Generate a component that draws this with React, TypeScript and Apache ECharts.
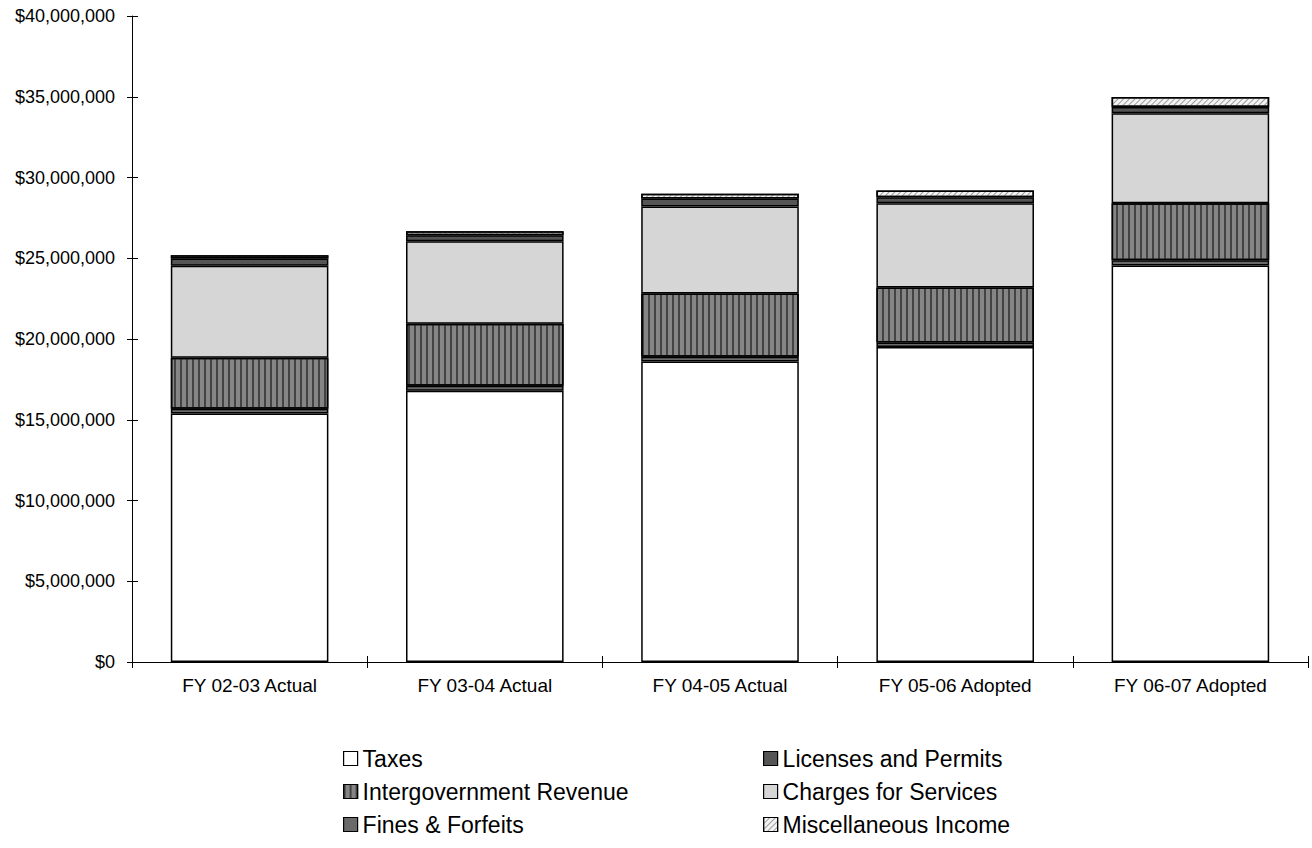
import React, { useEffect, useRef } from "react";
import * as echarts from "echarts";

const categories = ["FY 02-03 Actual", "FY 03-04 Actual", "FY 04-05 Actual", "FY 05-06 Adopted", "FY 06-07 Adopted"];
const taxes = [15380000, 16800000, 18600000, 19500000, 24550000];
const fines = [300000, 300000, 300000, 280000, 320000];
const intergov = [3160000, 3850000, 3920000, 3410000, 3530000];
const charges = [5700000, 5100000, 5380000, 5210000, 5580000];
const licenses = [450000, 370000, 500000, 380000, 380000];
const misc = [200000, 250000, 300000, 420000, 620000];
const legendCol1 = ["Taxes", "Intergovernment Revenue", "Fines & Forfeits"];
const legendCol2 = ["Licenses and Permits", "Charges for Services", "Miscellaneous Income"];

const FONT = "'Liberation Sans', Arial, sans-serif";

export default function App() {
  const ref = useRef<HTMLDivElement>(null);
  useEffect(() => {
    if (!ref.current) return;
    const chart = echarts.init(ref.current, undefined, { renderer: "svg" });
    const border = { borderColor: "#000", borderWidth: 1.5 };
    const mk = (name: string, data: number[], itemStyle: any) => ({
      name,
      type: "bar",
      stack: "total",
      data,
      barWidth: "67%",
      itemStyle: { ...border, ...itemStyle },
      emphasis: { disabled: true },
    });
    const legendBase = {
      orient: "vertical",
      top: 747,
      padding: 0,
      itemWidth: 14,
      itemHeight: 14,
      itemGap: 10,
      icon: "rect",
      selectedMode: false,
      textStyle: { fontFamily: FONT, fontSize: 23, lineHeight: 23, color: "#000" },
      itemStyle: { borderColor: "#000", borderWidth: 1.2 },
    };
    chart.setOption({
      animation: false,
      backgroundColor: "#fff",
      grid: { left: 132, right: 4, top: 16, bottom: 186, containLabel: false },
      legend: [
        { ...legendBase, left: 343, data: legendCol1 },
        { ...legendBase, left: 763, data: legendCol2 },
      ],
      xAxis: [
        {
          type: "category",
          data: categories,
          axisLine: { lineStyle: { color: "#000", width: 1 } },
          axisTick: { show: true, length: 6, lineStyle: { color: "#000" } },
          axisLabel: { color: "#000", fontFamily: FONT, fontSize: 19, margin: 14 },
        },
        {
          type: "category",
          data: categories,
          position: "bottom",
          axisLine: { show: false },
          axisTick: { show: true, inside: true, length: 6, lineStyle: { color: "#000" } },
          axisLabel: { show: false },
        },
      ],
      yAxis: [
        {
          type: "value",
          min: 0,
          max: 40000000,
          interval: 5000000,
          splitLine: { show: false },
          axisLine: { show: true, lineStyle: { color: "#000", width: 1 } },
          axisTick: { show: true, length: 5, lineStyle: { color: "#000" } },
          axisLabel: {
            color: "#000",
            fontFamily: FONT,
            fontSize: 18,
            margin: 17,
            formatter: (v: number) => "$" + v.toLocaleString("en-US"),
          },
        },
        {
          type: "value",
          min: 0,
          max: 40000000,
          interval: 5000000,
          position: "left",
          splitLine: { show: false },
          axisLine: { show: false },
          axisTick: { show: true, inside: true, length: 6, lineStyle: { color: "#000" } },
          axisLabel: { show: false },
        },
      ],
      series: [
        mk("Taxes", taxes, { color: "#ffffff" }),
        mk("Fines & Forfeits", fines, { color: "#6a6a6a" }),
        mk("Intergovernment Revenue", intergov, {
          color: "#858585",
          decal: {
            symbol: "rect",
            symbolSize: 1,
            color: "rgba(45,45,45,0.75)",
            dashArrayX: [2, 4],
            dashArrayY: [10, 0],
          },
        }),
        mk("Charges for Services", charges, { color: "#d6d6d6" }),
        mk("Licenses and Permits", licenses, { color: "#555555" }),
        mk("Miscellaneous Income", misc, {
          color: "#f4f4f4",
          decal: {
            symbol: "rect",
            symbolSize: 1,
            color: "rgba(120,120,120,0.7)",
            dashArrayX: [10, 0],
            dashArrayY: [1, 3],
            rotation: -Math.PI / 4,
          },
        }),
      ],
    });
    return () => chart.dispose();
  }, []);
  return (
    <div
      ref={ref}
      style={{ position: "fixed", left: 0, top: 0, width: 1312, height: 848, background: "#fff" }}
    />
  );
}
